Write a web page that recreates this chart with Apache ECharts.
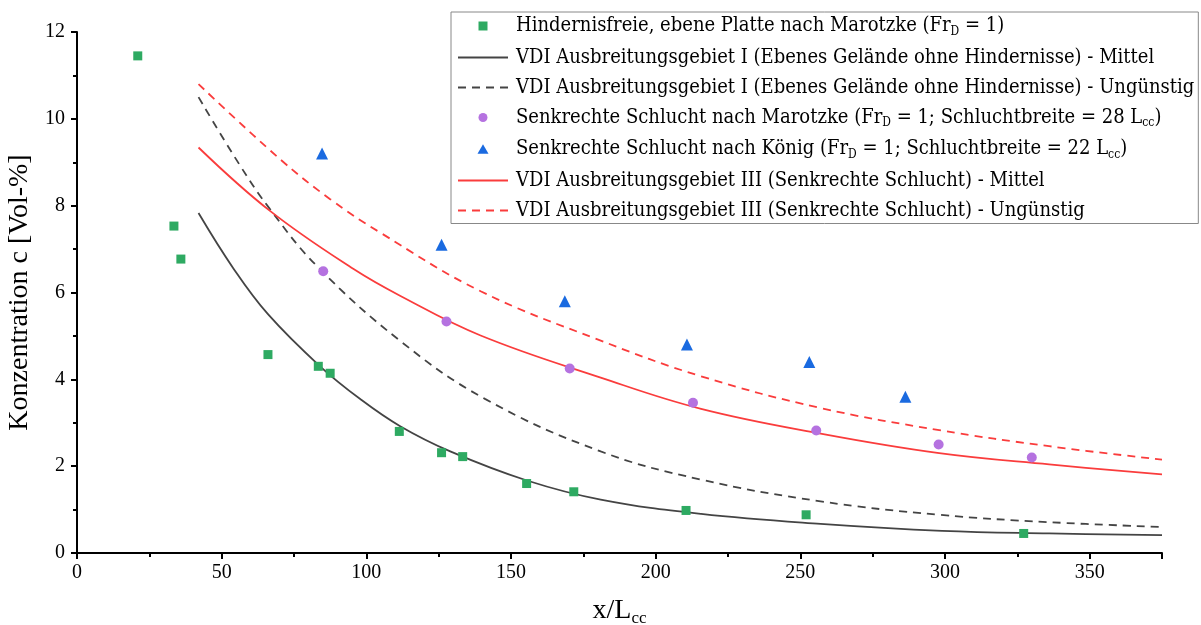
<!DOCTYPE html>
<html>
<head>
<meta charset="utf-8">
<script src="https://cdn.jsdelivr.net/npm/echarts@6/dist/echarts.min.js"></script>
<style>html,body{margin:0;padding:0;background:#fff}#c{width:1201px;height:625px}</style>
</head>
<body>
<div id="c"></div>
<script>
// ---- data ----
const platteMarotzke = [[21,11.45],[33.5,7.53],[35.9,6.77],[66,4.57],[83.4,4.30],[87.5,4.14],[111.4,2.80],[126,2.31],[133.3,2.22],[155.4,1.60],[171.7,1.41],[210.5,0.98],[252,0.88],[327.2,0.45]];
const schluchtMarotzke = [[85.1,6.49],[127.7,5.33],[170.3,4.25],[212.9,3.46],[255.5,2.82],[297.8,2.50],[330,2.20]];
const schluchtKoenig = [[84.7,9.2],[126,7.1],[168.6,5.8],[210.8,4.8],[253.1,4.4],[286.3,3.6]];
const vdiIMittel = [[42,7.83],[54,6.56],[66,5.50],[84,4.30],[98,3.54],[111.7,2.92],[129,2.34],[155.5,1.67],[181,1.23],[215.7,0.90],[257,0.67],[299,0.51],[336,0.45],[375,0.41]];
const vdiIUnguenstig = [[42,10.50],[56.4,8.92],[66.7,7.92],[82.9,6.61],[111.8,4.88],[141,3.55],[181,2.34],[215.7,1.69],[257,1.19],[298,0.88],[336,0.71],[375,0.60]];
const vdiIIIMittel = [[42,9.34],[66.7,7.88],[95.6,6.54],[111.8,5.92],[139.5,5.01],[181,4.04],[215.7,3.32],[257,2.75],[298,2.30],[336,2.04],[375,1.81]];
const vdiIIIUnguenstig = [[42,10.80],[70.2,9.07],[87.5,8.15],[104.8,7.38],[139.5,6.03],[179.9,4.92],[215.7,4.07],[257,3.34],[298,2.83],[336,2.46],[375,2.15]];
const seriesNames = [
  'Hindernisfreie, ebene Platte nach Marotzke (Fr{sub|D} = 1)',
  'VDI Ausbreitungsgebiet I (Ebenes Gelände ohne Hindernisse) - Mittel',
  'VDI Ausbreitungsgebiet I (Ebenes Gelände ohne Hindernisse) - Ungünstig',
  'Senkrechte Schlucht nach Marotzke (Fr{sub|D} = 1; Schluchtbreite = 28 L{sub|cc})',
  'Senkrechte Schlucht nach König (Fr{sub|D} = 1; Schluchtbreite = 22 L{sub|cc})',
  'VDI Ausbreitungsgebiet III (Senkrechte Schlucht) - Mittel',
  'VDI Ausbreitungsgebiet III (Senkrechte Schlucht) - Ungünstig'
];
const xTitle = 'x/L{sub|cc}';
const yTitle = 'Konzentration c [Vol-%]';

const GREEN = '#2eaa62', PURPLE = '#b572e0', BLUE = '#1a6ae0', RED = '#fa3c3c', GREY = '#444444';
const serif = 'Liberation Serif';
const legendFont = 'DejaVu Serif Condensed';

// legend icons: a 50x10 box (set by the two leading moves) with the marker in its middle
const ICON_SQUARE = 'path://M0,0 M50,10 M20.5,0.5 L29.5,0.5 L29.5,9.5 L20.5,9.5 Z';
const ICON_CIRCLE = 'path://M0,0 M50,10 M20.5,5 A4.5,4.5 0 1 1 29.5,5 A4.5,4.5 0 1 1 20.5,5 Z';
const ICON_TRIANGLE = 'path://M0,0 M50,10 M19.5,9.8 L30.5,9.8 L25,0.2 Z';

const chart = echarts.init(document.getElementById('c'), null, {renderer: 'canvas'});
const axisCommon = {
  axisLine: {show: true, onZero: false, lineStyle: {color: '#000', width: 2}},
  axisTick: {show: true, inside: false, length: 6, lineStyle: {color: '#000', width: 2}},
  minorTick: {show: true, splitNumber: 2, length: 4, lineStyle: {color: '#000', width: 2}},
  splitLine: {show: false},
  axisLabel: {color: '#000', fontFamily: serif, fontSize: 20}
};
function lineSeries(name, data, color, dashed) {
  return {name, type: 'line', data, smooth: 0.4, symbol: 'none', showSymbol: false,
    lineStyle: {color, width: 1.8, type: dashed ? [8, 6] : 'solid'}, itemStyle: {color}, z: 2};
}
function scatterSeries(name, data, color, symbol, size) {
  return {name, type: 'scatter', data, symbol, symbolSize: size, itemStyle: {color, opacity: 1}, z: 3};
}
const legendIcons = [ICON_SQUARE, null, null, ICON_CIRCLE, ICON_TRIANGLE, null, null];
chart.setOption({
  animation: false,
  backgroundColor: '#fff',
  grid: {left: 77, right: 39, top: 32, bottom: 72, containLabel: false, outerBoundsMode: 'none'},
  xAxis: Object.assign({}, axisCommon, {
    type: 'value', min: 0, max: 375, interval: 50,
    axisLabel: Object.assign({}, axisCommon.axisLabel, {margin: 10, showMaxLabel: false}),
    name: xTitle, nameLocation: 'middle', nameGap: 42,
    nameTextStyle: {color: '#000', fontFamily: serif, fontSize: 28,
      rich: {sub: {fontFamily: serif, fontSize: 17, padding: [15, 0, 0, 0], color: '#000'}}}
  }),
  yAxis: Object.assign({}, axisCommon, {
    type: 'value', min: 0, max: 12, interval: 2,
    axisLabel: Object.assign({}, axisCommon.axisLabel, {margin: 12}),
    name: yTitle, nameLocation: 'middle', nameGap: 35,
    nameTextStyle: {color: '#000', fontFamily: serif, fontSize: 28}
  }),
  legend: {
    orient: 'vertical', left: 451, top: 12,
    backgroundColor: '#fff', borderColor: '#888', borderWidth: 1,
    padding: [4, 4, 3, 6], itemGap: 10, itemWidth: 50, itemHeight: 10,
    textStyle: {color: '#000', fontFamily: legendFont, fontSize: 20, padding: [0, 0, 0, 3],
      rich: {sub: {fontFamily: legendFont, fontSize: 12, padding: [11, 0, 0, 0], color: '#000'}}},
    data: seriesNames.map((n, i) => legendIcons[i]
      ? {name: n, icon: legendIcons[i]}
      : {name: n, itemStyle: {opacity: 0}})
  },
  series: [
    scatterSeries(seriesNames[0], platteMarotzke, GREEN, 'rect', 9),
    lineSeries(seriesNames[1], vdiIMittel, GREY, false),
    lineSeries(seriesNames[2], vdiIUnguenstig, GREY, true),
    scatterSeries(seriesNames[3], schluchtMarotzke, PURPLE, 'circle', 10),
    scatterSeries(seriesNames[4], schluchtKoenig, BLUE, 'triangle', 12),
    lineSeries(seriesNames[5], vdiIIIMittel, RED, false),
    lineSeries(seriesNames[6], vdiIIIUnguenstig, RED, true)
  ]
});
</script>
</body>
</html>
